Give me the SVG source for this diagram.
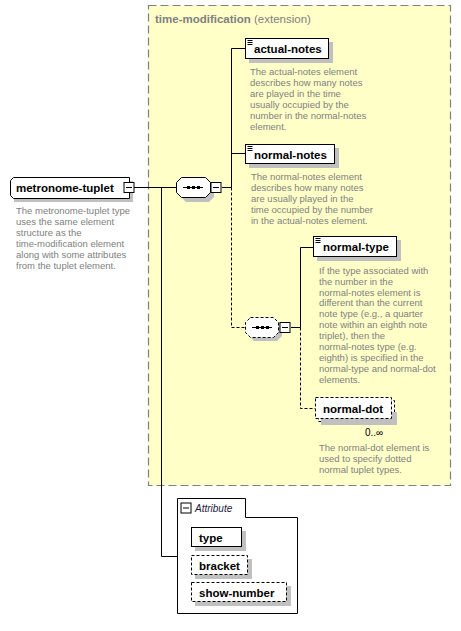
<svg xmlns="http://www.w3.org/2000/svg" width="461" height="631" viewBox="0 0 461 631">
<style>
.name{font-family:"Liberation Sans",Arial,sans-serif;font-size:11.5px;font-weight:bold;fill:#000}
.desc{font-family:"Liberation Sans",Arial,sans-serif;font-size:9.5px;fill:#808080}
.box{fill:#fff;stroke:#000;stroke-width:1}
.dbox{fill:#fff;stroke:#000;stroke-width:1;stroke-dasharray:3,2}
.sh{fill:#c0c0c0}
.ln{fill:none;stroke:#000;stroke-width:1}
.dln{fill:none;stroke:#000;stroke-width:1;stroke-dasharray:3,2}
</style>
<defs>
<g id="minus"><rect x="0.5" y="0.5" width="10" height="10" fill="#fff" stroke="#000"/><line x1="2.5" y1="5.5" x2="8.5" y2="5.5" stroke="#000"/></g>
<g id="simple"><path d="M0 0.5h5M0 2.5h5M0 4.5h5" stroke="#000" stroke-width="1"/></g>
<g id="seqdots"><line x1="0" y1="0.5" x2="20" y2="0.5" stroke="#000"/><rect x="4" y="-1" width="3" height="3" fill="#000"/><rect x="9" y="-1" width="3" height="3" fill="#000"/><rect x="14" y="-1" width="3" height="3" fill="#000"/></g>
</defs>

<!-- extension container -->
<g id="time-modification">
<rect x="148.5" y="5.5" width="302" height="480" fill="#ffffc8" stroke="#808080" stroke-width="1.2" stroke-dasharray="8,4"/>
<text x="155" y="23" font-family="Liberation Sans,Arial,sans-serif" font-size="11.5" fill="#808080"><tspan font-weight="bold">time-modification</tspan> (extension)</text>
</g>

<!-- connectors -->
<g id="connectors">
<path class="ln" d="M134 187.5H176"/>
<path class="ln" d="M161.5 187.5V556.5H177"/>
<path class="ln" d="M222 187.5H231.5"/>
<path class="ln" d="M231.5 48.5V187.5"/>
<path class="ln" d="M231.5 48.5H245"/>
<path class="ln" d="M231.5 153.5H245"/>
<path class="dln" d="M231.5 187.5V327.5H245"/>
<path class="ln" d="M291 327.5H300.5"/>
<path class="ln" d="M300.5 247.5V327.5"/>
<path class="ln" d="M300.5 247.5H313"/>
<path class="dln" d="M300.5 327.5V408.5H315"/>
</g>

<!-- metronome-tuplet -->
<g id="metronome-tuplet">
<path class="sh" d="M17 181H133V202H14V184Z"/>
<path class="box" d="M13.5 177.5H129.5V198.5H13.5L10.5 195.5V180.5Z"/>
<use href="#minus" x="123.5" y="182"/>
<text class="name" x="16" y="192">metronome-tuplet</text>
<text class="desc"><tspan x="16" y="213.5">The metronome-tuplet type</tspan><tspan x="16" y="224.5">uses the same element</tspan><tspan x="16" y="235.5">structure as the</tspan><tspan x="16" y="246.5">time-modification element</tspan><tspan x="16" y="257.5">along with some attributes</tspan><tspan x="16" y="268.5">from the tuplet element.</tspan></text>
</g>

<!-- sequence 1 -->
<g id="sequence1">
<path class="sh" d="M186 181H209L214 186V197L209 202H186L181 197V186Z"/>
<path class="box" d="M181.5 177.5H205.5L210.5 182.5V192.5L205.5 197.5H181.5L176.5 192.5V182.5Z"/>
<use href="#seqdots" x="183" y="187"/>
<use href="#minus" x="210.5" y="182"/>
</g>

<!-- actual-notes -->
<g id="actual-notes">
<rect class="sh" x="249" y="42" width="84" height="21"/>
<rect class="box" x="245.5" y="38.5" width="83" height="20"/>
<use href="#simple" x="247.5" y="40"/>
<text class="name" x="254" y="53">actual-notes</text>
<text class="desc"><tspan x="250" y="74.5">The actual-notes element</tspan><tspan x="250" y="85.5">describes how many notes</tspan><tspan x="250" y="96.5">are played in the time</tspan><tspan x="250" y="107.5">usually occupied by the</tspan><tspan x="250" y="118.5">number in the normal-notes</tspan><tspan x="250" y="129.5">element.</tspan></text>
</g>

<!-- normal-notes -->
<g id="normal-notes">
<rect class="sh" x="249" y="148" width="90" height="20"/>
<rect class="box" x="245.5" y="144.5" width="89" height="19"/>
<use href="#simple" x="247.5" y="146"/>
<text class="name" x="254" y="158.5">normal-notes</text>
<text class="desc"><tspan x="251" y="179.5">The normal-notes element</tspan><tspan x="251" y="190.5">describes how many notes</tspan><tspan x="251" y="201.5">are usually played in the</tspan><tspan x="251" y="212.5">time occupied by the number</tspan><tspan x="251" y="223.5">in the actual-notes element.</tspan></text>
</g>

<!-- sequence 2 (optional) -->
<g id="sequence2">
<path class="sh" d="M254 321H277L282 326V336L277 341H254L249 336V326Z"/>
<path class="dbox" d="M250.5 317.5H273.5L278.5 322.5V332.5L273.5 337.5H250.5L245.5 332.5V322.5Z"/>
<use href="#seqdots" x="252" y="327"/>
<use href="#minus" x="279.5" y="322"/>
</g>

<!-- normal-type -->
<g id="normal-type">
<rect class="sh" x="317" y="240" width="84" height="21"/>
<rect class="box" x="313.5" y="236.5" width="83" height="20"/>
<use href="#simple" x="315.5" y="238"/>
<text class="name" x="323" y="251">normal-type</text>
<text class="desc"><tspan x="319" y="273.5">If the type associated with</tspan><tspan x="319" y="284.5">the number in the</tspan><tspan x="319" y="295.5">normal-notes element is</tspan><tspan x="319" y="306">different than the current</tspan><tspan x="319" y="316.5">note type (e.g., a quarter</tspan><tspan x="319" y="327.5">note within an eighth note</tspan><tspan x="319" y="339">triplet), then the</tspan><tspan x="319" y="350">normal-notes type (e.g.</tspan><tspan x="319" y="360.5">eighth) is specified in the</tspan><tspan x="319" y="371.5">normal-type and normal-dot</tspan><tspan x="319" y="382.5">elements.</tspan></text>
</g>

<!-- normal-dot -->
<g id="normal-dot">
<rect class="dbox" x="318.5" y="400.5" width="76" height="21"/>
<rect class="sh" x="321" y="412" width="76" height="13"/>
<rect class="dbox" x="315.5" y="397.5" width="76" height="21"/>
<text class="name" x="323" y="412.5">normal-dot</text>
<text x="365" y="436" font-family="Liberation Sans,Arial,sans-serif" font-size="10" fill="#000">0..∞</text>
<text class="desc"><tspan x="319" y="450.5">The normal-dot element is</tspan><tspan x="319" y="461.5">used to specify dotted</tspan><tspan x="319" y="472.5">normal tuplet types.</tspan></text>
</g>

<!-- attributes -->
<g id="attributes">
<path d="M177.5 498.5H245.5V517.5H297.5V613.5H177.5Z" fill="#fff" stroke="#000"/>
<use href="#minus" x="180.5" y="502.5"/>
<text x="195" y="512" font-family="Liberation Sans,Arial,sans-serif" font-size="10" font-style="italic" fill="#1a1a3a">Attribute</text>
</g>
<g id="attr-type">
<rect class="sh" x="195" y="531" width="51" height="20"/>
<rect class="box" x="191.5" y="527.5" width="50" height="19"/>
<text class="name" x="199" y="541.5">type</text>
</g>
<g id="attr-bracket">
<rect class="sh" x="195" y="559" width="57" height="20"/>
<rect class="dbox" x="191.5" y="555.5" width="56" height="19"/>
<text class="name" x="199" y="569.5">bracket</text>
</g>
<g id="attr-show-number">
<rect class="sh" x="195" y="586" width="96" height="20"/>
<rect class="dbox" x="191.5" y="582.5" width="95" height="19"/>
<text class="name" x="199" y="596.5">show-number</text>
</g>
</svg>
